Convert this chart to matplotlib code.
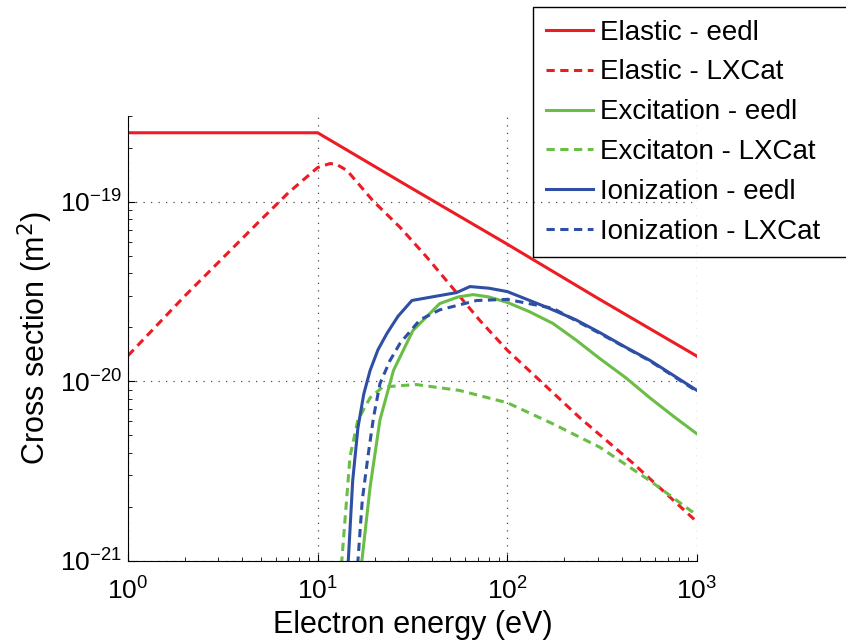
"""Elastic / excitation / ionization cross sections: eedl vs LXCat."""

import matplotlib
matplotlib.use("Agg")
import matplotlib.pyplot as plt
from matplotlib.patches import Rectangle

plt.rcParams["font.family"] = ["Liberation Sans", "DejaVu Sans"]
plt.rcParams["axes.unicode_minus"] = False

# energies in eV, cross sections in m^2
el_eedl_x = [1, 10, 30, 100, 300, 1000]
el_eedl_y = [2.42e-19, 2.42e-19, 1.22e-19, 5.8e-20, 2.9e-20, 1.38e-20]

el_lx_x = [1, 2, 3, 5, 7, 10, 11.6, 12.5, 14.3, 19.6, 27.2, 37.7, 51.6, 71.7,
           100, 240, 460, 1000]
el_lx_y = [1.39e-20, 3.0e-20, 4.6e-20, 7.9e-20, 1.12e-19, 1.55e-19, 1.63e-19,
           1.62e-19, 1.49e-19, 1.01e-19, 7.2e-20, 4.9e-20, 3.3e-20, 2.18e-20,
           1.49e-20, 6.3e-21, 3.5e-21, 1.65e-21]

ex_eedl_x = [16.8, 17.1, 18.9, 21.3, 25.1, 31.8, 44, 55, 66, 80, 100, 130, 174,
             230, 307, 420, 564, 750, 1000]
ex_eedl_y = [8e-22, 1.0e-21, 2.58e-21, 6.1e-21, 1.15e-20, 1.92e-20, 2.71e-20,
             2.95e-20, 3.04e-20, 2.95e-20, 2.75e-20, 2.45e-20, 2.1e-20, 1.7e-20,
             1.34e-20, 1.05e-20, 8.1e-21, 6.4e-21, 5.1e-21]

ex_lx_x = [13.2, 13.4, 14.8, 16.3, 18.9, 22, 33, 56, 100, 174, 307, 564, 950, 1000]
ex_lx_y = [8e-22, 1.0e-21, 3.8e-21, 6.1e-21, 8.1e-21, 9.3e-21, 9.6e-21, 8.9e-21,
           7.6e-21, 5.8e-21, 4.3e-21, 2.8e-21, 1.87e-21, 1.78e-21]

io_eedl_x = [14.3, 14.5, 15.3, 16.3, 17.5, 18.9, 20.8, 23.2, 26.5, 31.4, 40,
             54, 63.5, 80, 100, 162, 230, 307, 420, 564, 1000]
io_eedl_y = [8e-22, 1.0e-21, 2.8e-21, 5.5e-21, 8.5e-21, 1.15e-20, 1.5e-20,
             1.85e-20, 2.3e-20, 2.82e-20, 2.95e-20, 3.12e-20, 3.37e-20,
             3.3e-20, 3.16e-20, 2.58e-20, 2.2e-20, 1.87e-20, 1.55e-20,
             1.31e-20, 8.9e-21]

io_lx_x = [16.1, 16.3, 17.2, 18.4, 19.7, 21.3, 24, 27.2, 34.6, 44, 69, 100,
           174, 307, 564, 1000]
io_lx_y = [8e-22, 1.0e-21, 2.2e-21, 3.8e-21, 6.3e-21, 9.7e-21, 1.3e-20,
           1.63e-20, 2.2e-20, 2.5e-20, 2.82e-20, 2.86e-20, 2.55e-20, 1.85e-20,
           1.3e-20, 8.8e-21]

RED = "#ed1c24"
GREEN = "#6abd45"
BLUE = "#2e4fa3"
DASH = (2.7, 1.8)


def main():
    fig = plt.figure(figsize=(8.46, 6.41), dpi=100)
    ax = fig.add_axes([128 / 846, 1 - 561 / 641, 569 / 846, 445 / 641])

    lw = 2.2
    ax.plot(el_eedl_x, el_eedl_y, color=RED, lw=lw, label="Elastic - eedl")
    ax.plot(el_lx_x, el_lx_y, color=RED, lw=lw, dashes=DASH, label="Elastic - LXCat")
    ax.plot(ex_eedl_x, ex_eedl_y, color=GREEN, lw=lw, label="Excitation - eedl")
    ax.plot(ex_lx_x, ex_lx_y, color=GREEN, lw=lw, dashes=DASH, label="Excitaton - LXCat")
    ax.plot(io_eedl_x, io_eedl_y, color=BLUE, lw=lw, label="Ionization - eedl")
    ax.plot(io_lx_x, io_lx_y, color=BLUE, lw=lw, dashes=DASH, label="Ionization - LXCat")

    ax.set_xscale("log")
    ax.set_yscale("log")
    ax.set_xlim(1, 1000)
    ax.set_ylim(1e-21, 3e-19)

    for side in ("top", "right"):
        ax.spines[side].set_visible(False)
    ax.tick_params(which="both", direction="in", labelsize=19)
    ax.tick_params(axis="x", pad=12)
    ax.tick_params(axis="y", pad=4)
    ax.tick_params(which="major", length=5)
    ax.tick_params(which="minor", length=3)
    ax.grid(True, which="major", ls=(0, (1, 5)), color="0.3", lw=0.9)

    ax.set_xlabel("Electron energy (eV)", fontsize=22, labelpad=4)
    ax.set_ylabel("Cross section (m$^2$)", fontsize=22, labelpad=4)

    # legend sits outside the axes; its box runs past the right edge
    leg = fig.legend(loc="upper left", bbox_to_anchor=(533 / 846, 1 - 7 / 641),
                     fontsize=20, frameon=False, borderpad=0.45,
                     labelspacing=0.5, handlelength=1.7, handletextpad=0.25,
                     borderaxespad=0)
    fig.canvas.draw()
    bb = leg.get_window_extent()
    fig.patches.append(Rectangle((bb.x0, bb.y0), bb.width + 60, bb.height,
                                 transform=None, fill=False, ec="black",
                                 lw=1.0, zorder=6))

    fig.savefig("out.png", dpi=100)


if __name__ == "__main__":
    main()
